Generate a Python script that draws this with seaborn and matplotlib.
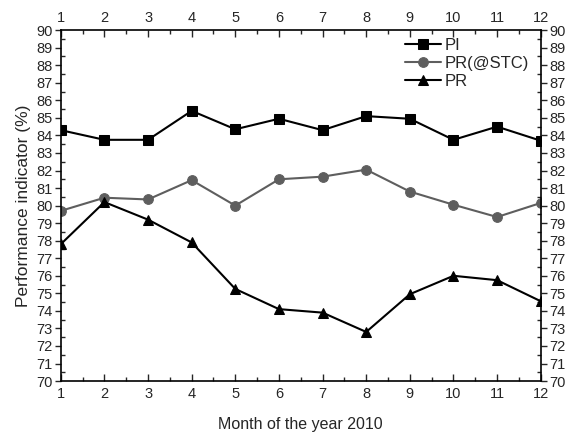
import numpy as np
import pandas as pd
import matplotlib
matplotlib.use("Agg")
import matplotlib.pyplot as plt
import seaborn as sns
from matplotlib.ticker import MultipleLocator

sns.set_style("ticks")
plt.rcParams['font.family'] = ['Liberation Sans', 'DejaVu Sans']

# Data
months = [1, 2, 3, 4, 5, 6, 7, 8, 9, 10, 11, 12]
pi = [84.3, 83.75, 83.75, 85.4, 84.35, 84.95, 84.3, 85.1, 84.95, 83.75, 84.5, 83.7]
pr_stc = [79.7, 80.45, 80.35, 81.45, 80.0, 81.5, 81.65, 82.05, 80.8, 80.05, 79.35, 80.15]
pr = [77.8, 80.2, 79.2, 77.9, 75.25, 74.1, 73.9, 72.8, 74.95, 76.0, 75.75, 74.55]

df = pd.DataFrame({"month": months, "PI": pi, "PR(@STC)": pr_stc, "PR": pr})

fig = plt.figure(figsize=(5.68, 4.37), dpi=100)
ax = fig.add_axes([0.107, 0.128, 0.845, 0.803])

sns.lineplot(data=df, x="month", y="PI", ax=ax, color="black", marker="s",
             markersize=7, markeredgecolor="black", linewidth=1.5, label="PI")
sns.lineplot(data=df, x="month", y="PR(@STC)", ax=ax, color="#5e5e5e", marker="o",
             markersize=7, markeredgecolor="#5e5e5e", linewidth=1.5, label="PR(@STC)")
sns.lineplot(data=df, x="month", y="PR", ax=ax, color="black", marker="^",
             markersize=7, markeredgecolor="black", linewidth=1.5, label="PR")

ax.set_xlim(1, 12)
ax.set_ylim(70, 90)
ax.set_xticks(months)
ax.xaxis.set_minor_locator(MultipleLocator(0.5))
ax.set_yticks(np.arange(70, 91, 1))
ax.yaxis.set_minor_locator(MultipleLocator(0.5))

ax.tick_params(axis="x", which="major", direction="in", length=5, width=1, labelsize=10.5,
               top=True, labeltop=True, pad=4)
ax.tick_params(axis="x", which="minor", direction="in", length=3, width=1, top=True)
ax.tick_params(axis="y", which="major", direction="out", length=4, width=1, labelsize=10.5,
               right=True, labelright=True, pad=2)
ax.tick_params(axis="y", which="minor", direction="in", length=3, width=1, right=True)

for s in ax.spines.values():
    s.set_linewidth(1.2)
    s.set_color("black")

ax.set_xlabel("Month of the year 2010", fontsize=11.5, labelpad=12)
ax.set_ylabel("Performance indicator (%)", fontsize=12.5, labelpad=4)

ax.legend(loc="upper right", bbox_to_anchor=(1.0, 1.012), frameon=False, fontsize=12,
          handlelength=2.2, handletextpad=0.2, labelspacing=0.2, borderaxespad=0.3)

fig.savefig("out.png", dpi=100)
